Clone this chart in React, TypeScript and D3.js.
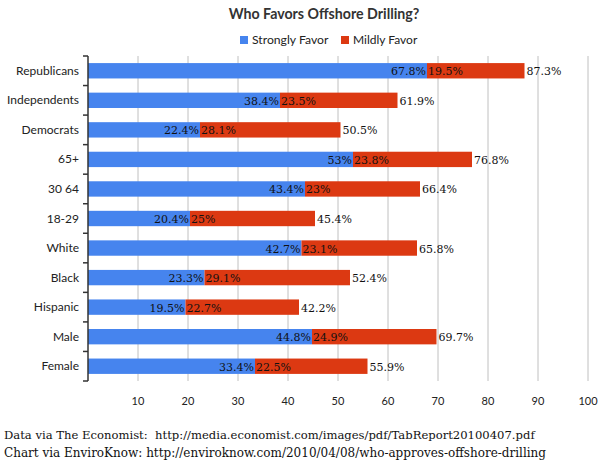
import * as d3 from "d3";

const categories = [
  "Republicans",
  "Independents",
  "Democrats",
  "65+",
  "30 64",
  "18-29",
  "White",
  "Black",
  "Hispanic",
  "Male",
  "Female",
];
const strongly = [67.8, 38.4, 22.4, 53, 43.4, 20.4, 42.7, 23.3, 19.5, 44.8, 33.4];
const mildly = [19.5, 23.5, 28.1, 23.8, 23, 25, 23.1, 29.1, 22.7, 24.9, 22.5];
const totals = [87.3, 61.9, 50.5, 76.8, 66.4, 45.4, 65.8, 52.4, 42.2, 69.7, 55.9];
const xTicks = [10, 20, 30, 40, 50, 60, 70, 80, 90, 100];

const BLUE = "#4684ee";
const RED = "#dc3912";
const sans = "Lato, sans-serif";
const serif = "DejaVu Serif";

export default function App() {
  const width = 616;
  const height = 462;
  const left = 88;
  const top = 56;
  const bottom = 381;

  const x = d3.scaleLinear().domain([0, 100]).range([left, 588]);
  const y = d3
    .scaleBand<string>()
    .domain(categories)
    .range([top, bottom])
    .paddingInner(0.48)
    .paddingOuter(0.24);
  const bw = y.bandwidth();
  const step = y.step();

  // row boundaries for the little ticks on the left axis
  const boundaries = d3.range(categories.length + 1).map((i) => top + i * step);

  const serifStyle = { fontFamily: serif };
  const valueSize = 11;

  return (
    <div style={{ position: "absolute", left: 0, top: 0 }}>
      <svg width={width} height={height} style={{ display: "block", background: "#fff" }}>
        {/* title + legend */}
        <text
          x={324}
          y={19}
          textAnchor="middle"
          fontFamily={sans}
          fontWeight="bold"
          fontSize={14.2}
          fill="#333"
        >
          Who Favors Offshore Drilling?
        </text>
        <rect x={240} y={36} width={8} height={8} fill={BLUE} />
        <text x={252} y={44} fontFamily={sans} fontSize={12.2} fill="#222">
          Strongly Favor
        </text>
        <rect x={341} y={36} width={8} height={8} fill={RED} />
        <text x={353} y={44} fontFamily={sans} fontSize={12} fill="#222">
          Mildly Favor
        </text>

        {/* grid */}
        {xTicks.map((t) => (
          <g key={t}>
            <line x1={x(t)} x2={x(t)} y1={top} y2={bottom} stroke="#c0c0c0" strokeWidth={1} />
            <text
              x={x(t)}
              y={405}
              textAnchor="middle"
              fontFamily={sans}
              fontSize={11}
              fill="#222"
            >
              {t}
            </text>
          </g>
        ))}

        {/* bars */}
        {categories.map((c, i) => {
          const y0 = y(c)!;
          const cy = y0 + bw / 2;
          return (
            <g key={c}>
              <rect x={x(0)} y={y0} width={x(strongly[i]) - x(0)} height={bw} fill={BLUE} />
              <rect
                x={x(strongly[i])}
                y={y0}
                width={x(totals[i]) - x(strongly[i])}
                height={bw}
                fill={RED}
              />
              <text
                x={x(strongly[i]) - 1}
                y={cy + 4.5}
                textAnchor="end"
                style={serifStyle}
                fontSize={valueSize}
                fill="#111"
              >
                {strongly[i]}%
              </text>
              <text x={x(strongly[i]) + 1} y={cy + 4.5} style={serifStyle} fontSize={valueSize} fill="#111">
                {mildly[i]}%
              </text>
              <text x={x(totals[i]) + 2} y={cy + 4.5} style={serifStyle} fontSize={valueSize} fill="#111">
                {totals[i]}%
              </text>
              <text
                x={79}
                y={cy + 4}
                textAnchor="end"
                fontFamily={sans}
                fontSize={12}
                fill="#222"
              >
                {c}
              </text>
            </g>
          );
        })}

        {/* left axis */}
        <line x1={left} x2={left} y1={top} y2={bottom} stroke="#333" strokeWidth={1.5} />
        {boundaries.map((b, i) => (
          <line key={i} x1={left - 5} x2={left} y1={b} y2={b} stroke="#333" strokeWidth={1.5} />
        ))}

        {/* footer */}
        <text x={4} y={439} style={serifStyle} fontSize={11.6} fill="#111" xmlSpace="preserve">
          {"Data via The Economist:  http://media.economist.com/images/pdf/TabReport20100407.pdf"}
        </text>
        <text x={4} y={457} style={serifStyle} fontSize={12} fill="#111">
          Chart via EnviroKnow: http://enviroknow.com/2010/04/08/who-approves-offshore-drilling
        </text>
      </svg>
    </div>
  );
}
